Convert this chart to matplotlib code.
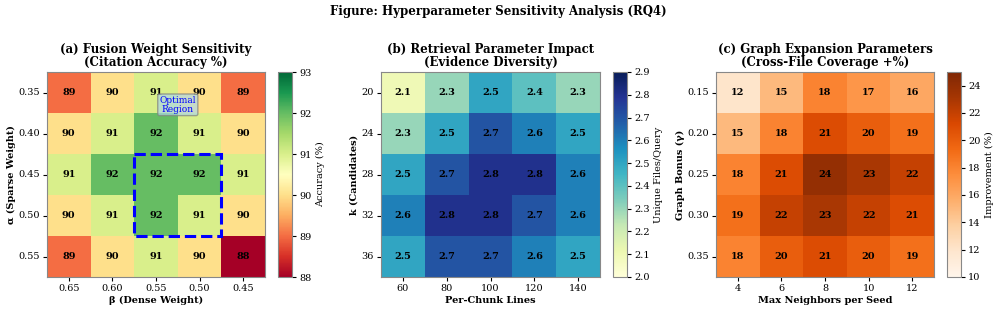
import matplotlib
matplotlib.use("Agg")
from matplotlib import pyplot as plt
from matplotlib.patches import Rectangle
import seaborn as sns
import numpy as np

# (a) 融合权重
beta_labels = ["0.65", "0.60", "0.55", "0.50", "0.45"]
alpha_labels = ["0.35", "0.40", "0.45", "0.50", "0.55"]
accuracy = [[89, 90, 91, 90, 89],
            [90, 91, 92, 91, 90],
            [91, 92, 92, 92, 91],
            [90, 91, 92, 91, 90],
            [89, 90, 91, 90, 88]]

# (b) 检索参数
chunk_labels = ["60", "80", "100", "120", "140"]
k_labels = ["20", "24", "28", "32", "36"]
diversity = [[2.1, 2.3, 2.5, 2.4, 2.3],
             [2.3, 2.5, 2.7, 2.6, 2.5],
             [2.5, 2.7, 2.8, 2.8, 2.6],
             [2.6, 2.8, 2.8, 2.7, 2.6],
             [2.5, 2.7, 2.7, 2.6, 2.5]]

# (c) 图扩展参数
neighbor_labels = ["4", "6", "8", "10", "12"]
gamma_labels = ["0.15", "0.20", "0.25", "0.30", "0.35"]
coverage = [[12, 15, 18, 17, 16],
            [15, 18, 21, 20, 19],
            [18, 21, 24, 23, 22],
            [19, 22, 23, 22, 21],
            [18, 20, 21, 20, 19]]

plt.rcParams['font.family'] = ['DejaVu Serif']
plt.rcParams['font.size'] = 7

fig = plt.figure(figsize=(9.96, 3.12), dpi=100)
W, H = 996.0, 312.0


def box(x0, x1, y0, y1):
    return [x0 / W, 1 - y1 / H, (x1 - x0) / W, (y1 - y0) / H]


panels = [
    dict(data=accuracy, x=beta_labels, y=alpha_labels, cmap="RdYlGn", vmin=88, vmax=93,
         fmt="d", title="(a) Fusion Weight Sensitivity\n(Citation Accuracy %)",
         xl="β (Dense Weight)", yl="α (Sparse Weight)", cl="Accuracy (%)",
         ax=(47, 265), cax=(278, 292)),
    dict(data=diversity, x=chunk_labels, y=k_labels, cmap="YlGnBu", vmin=2.0, vmax=2.9,
         fmt=".1f", title="(b) Retrieval Parameter Impact\n(Evidence Diversity)",
         xl="Per-Chunk Lines", yl="k (Candidates)", cl="Unique Files/Query",
         ax=(381, 600), cax=(613, 627)),
    dict(data=coverage, x=neighbor_labels, y=gamma_labels, cmap="Oranges", vmin=10, vmax=25,
         fmt="d", title="(c) Graph Expansion Parameters\n(Cross-File Coverage +%)",
         xl="Max Neighbors per Seed", yl="Graph Bonus (γ)", cl="Improvement (%)",
         ax=(716, 934), cax=(947, 961)),
]

axes = []
for p in panels:
    ax = fig.add_axes(box(p["ax"][0], p["ax"][1], 72, 277))
    cax = fig.add_axes(box(p["cax"][0], p["cax"][1], 72, 277))
    sns.heatmap(np.array(p["data"]), ax=ax, cbar_ax=cax, cmap=p["cmap"],
                vmin=p["vmin"], vmax=p["vmax"], annot=True, fmt=p["fmt"],
                annot_kws={"fontsize": 7, "fontweight": "bold", "color": "black"},
                xticklabels=p["x"], yticklabels=p["y"],
                cbar_kws={"label": p["cl"]})
    ax.set_title(p["title"], fontsize=8.5, fontweight="bold", pad=4, linespacing=1.0)
    ax.set_xlabel(p["xl"], fontsize=7, fontweight="bold", labelpad=2)
    ax.set_ylabel(p["yl"], fontsize=7, fontweight="bold", labelpad=2)
    ax.tick_params(labelsize=7, length=3, pad=2)
    plt.setp(ax.get_yticklabels(), rotation=0)
    plt.setp(ax.get_xticklabels(), rotation=0)
    for s in ax.spines.values():
        s.set_visible(True)
        s.set_color("#888888")
        s.set_linewidth(0.8)
    cax.tick_params(labelsize=7, length=3, pad=2)
    cax.yaxis.label.set_size(7)
    cax.yaxis.labelpad = 3
    cbar = ax.collections[0].colorbar
    cbar.outline.set_visible(True)
    cbar.outline.set_edgecolor("#888888")
    cbar.outline.set_linewidth(0.8)
    axes.append(ax)

# 最优区域
axes[0].add_patch(Rectangle((2, 2), 2, 2, fill=False, edgecolor="blue",
                            linestyle="--", linewidth=2.2))
axes[0].text(3, 0.8, "Optimal\nRegion", ha="center", va="center", fontsize=6.5,
             color="blue", linespacing=1.0,
             bbox=dict(boxstyle="round,pad=0.2", facecolor="lightblue",
                       edgecolor="gray", alpha=0.7))

fig.suptitle("Figure: Hyperparameter Sensitivity Analysis (RQ4)", fontsize=8.5,
             fontweight="bold", y=1 - 12 / H, va="center")

fig.savefig("out.png", dpi=100)
